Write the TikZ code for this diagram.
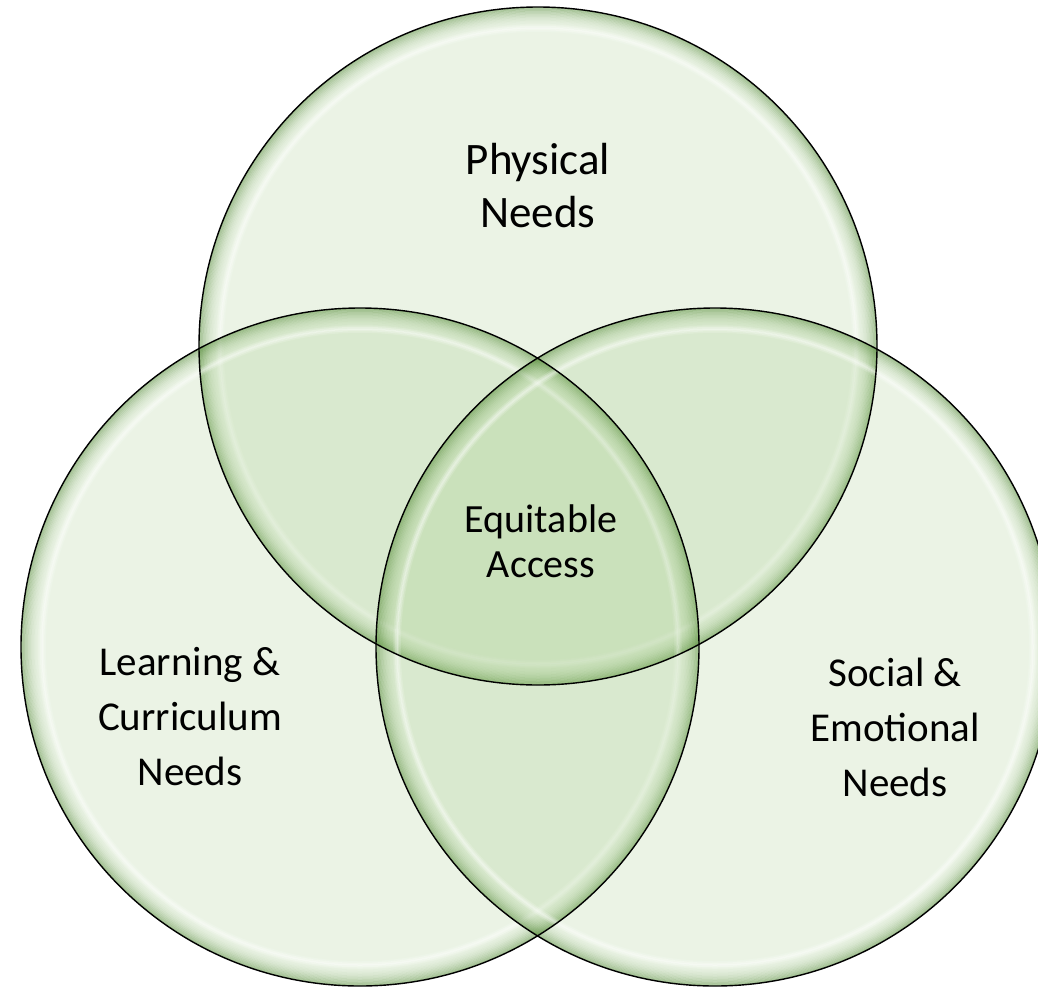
\documentclass[tikz,border=0pt]{standalone}
\usepackage{fontspec}
\setmainfont{Carlito}
\definecolor{vfill}{RGB}{112,173,71}
\definecolor{vglow}{RGB}{60,120,30}
\tikzset{
  vennfill/.style={fill=vfill, fill opacity=0.14},
  vennline/.style={draw=black, line width=1.4pt},
  toplabel/.style={align=center, font=\fontsize{45}{53}\selectfont, text=black},
  sidelabel/.style={align=center, font=\fontsize{41}{55}\selectfont, text=black},
  smalllabel/.style={align=center, font=\fontsize{40}{45}\selectfont, text=black}
}
\newcommand{\venncircle}[1]{%
  \fill[vennfill] (#1) circle[radius=339pt];
  \foreach \k in {0,...,13}{
    \pgfmathsetmacro{\op}{0.40*(1-\k/14)*(1-\k/14)}
    \draw[draw=vglow, draw opacity=\op, line width=1.5pt] (#1) circle[radius={(339-0.75-1.5*\k)*1pt}];
  }
  \foreach \k/\o in {0/0.15,1/0.35,2/0.5,3/0.35,4/0.15}{
    \draw[draw=white, draw opacity=\o, line width=1.5pt] (#1) circle[radius={(339-18-1.5*\k)*1pt}];
  }
}
\begin{document}
\begin{tikzpicture}[x=1pt,y=-1pt]
\useasboundingbox (0,0) rectangle (1038,988);
\clip (0,0) rectangle (1038,988);
\coordinate (ctop) at (538,346);
\coordinate (cleft) at (360,647);
\coordinate (cright) at (715,647);
\venncircle{ctop}
\venncircle{cleft}
\venncircle{cright}
\draw[vennline] (ctop) circle[radius=339pt];
\draw[vennline] (cleft) circle[radius=339pt];
\draw[vennline] (cright) circle[radius=339pt];
\node[toplabel] (phys) at (538,186) {Physical\\Needs};
\node[sidelabel] (learn) at (190,717) {Learning \&\\Curriculum\\Needs};
\node[sidelabel] (social) at (895,727) {Social \&\\Emotional\\Needs};
\node[smalllabel] (equit) at (541,541) {Equitable\\Access};
\end{tikzpicture}
\end{document}
